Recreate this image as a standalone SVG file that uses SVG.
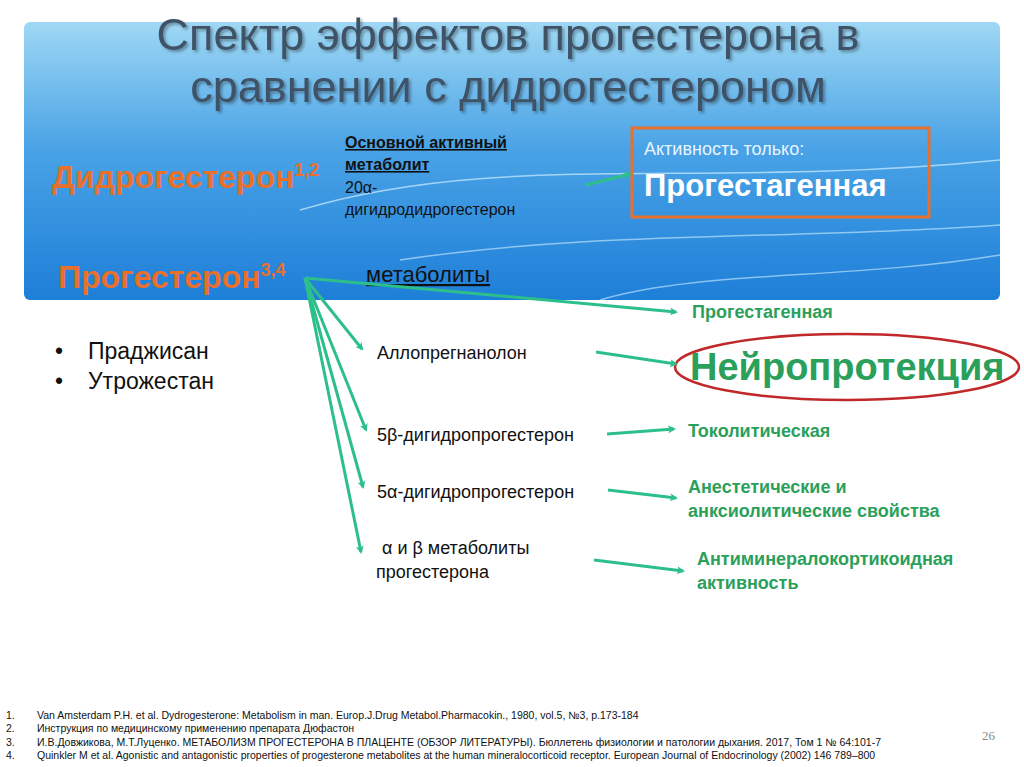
<svg xmlns="http://www.w3.org/2000/svg" width="1024" height="767" viewBox="0 0 1024 767">
<defs>
<linearGradient id="bg" x1="0" y1="0" x2="0" y2="1">
<stop offset="0" stop-color="#9fd8f4"/><stop offset="0.45" stop-color="#4aa3e6"/><stop offset="1" stop-color="#1e7fd8"/>
</linearGradient>
<marker id="ah" markerWidth="8" markerHeight="8" refX="6" refY="4" orient="auto" markerUnits="userSpaceOnUse" viewBox="0 0 8 8">
<path d="M0,0 L8,4 L0,8 L2,4 Z" fill="#2dbf8a"/>
</marker>
<filter id="sh"><feDropShadow dx="2" dy="2" stdDeviation="1.5" flood-color="#000" flood-opacity="0.35"/></filter>
</defs>
<style>
.t{font-family:"Liberation Sans",Arial,sans-serif}
.c{stroke:#2dbf8a;stroke-width:3;fill:none;marker-end:url(#ah)}
.g{fill:#2aa05a;font-weight:bold;font-size:18px}
.k{fill:#111;font-size:18px}
</style>
<rect width="1024" height="767" fill="#fff"/>
<rect x="24" y="22" width="976" height="278" rx="6" fill="url(#bg)"/>
<path d="M300,210 C500,150 700,190 1000,160" stroke="#cfeeff" stroke-width="1.5" fill="none" opacity="0.7"/>
<path d="M400,260 C600,230 800,240 1000,225" stroke="#cfeeff" stroke-width="1.5" fill="none" opacity="0.6"/>
<path d="M600,300 C700,270 850,280 1000,255" stroke="#cfeeff" stroke-width="1.5" fill="none" opacity="0.6"/>
<g id="title" class="t" fill="#3f5266" font-size="45" text-anchor="middle" filter="url(#sh)">
<text x="508" y="50">Спектр эффектов прогестерона в</text>
<text x="508" y="102">сравнении с дидрогестероном</text>
</g>
<g id="dydro" class="t"><text x="52" y="188" fill="#e8702a" font-size="32" font-weight="bold">Дидрогестерон<tspan font-size="18" dy="-12">1,2</tspan></text></g>
<g id="prog" class="t"><text x="58" y="288" fill="#e8702a" font-size="32" font-weight="bold">Прогестерон<tspan font-size="18" dy="-12">3,4</tspan></text></g>
<g id="metab1" class="t" fill="#111" font-size="16">
<text x="345" y="148" font-weight="bold" text-decoration="underline">Основной активный</text>
<text x="345" y="170" font-weight="bold" text-decoration="underline">метаболит</text>
<text x="345" y="193">20α-</text>
<text x="345" y="215">дигидродидрогестерон</text>
</g>
<g id="active" class="t">
<rect x="632" y="128" width="297" height="89" fill="none" stroke="#e8702a" stroke-width="3"/>
<text x="644" y="155" fill="#e8f4ff" font-size="18">Активность только:</text>
<text x="644" y="196" fill="#fff" font-size="31" font-weight="bold">Прогестагенная</text>
</g>
<g id="metab2" class="t"><text x="366" y="282" fill="#111" font-size="22" text-decoration="underline">метаболиты</text></g>
<g id="brands" class="t" fill="#111" font-size="23">
<text x="55" y="359">•</text><text x="88" y="359">Праджисан</text>
<text x="55" y="389">•</text><text x="88" y="389">Утрожестан</text>
</g>
<g id="m1" class="t"><text x="377" y="359" class="k t">Аллопрегнанолон</text></g>
<g id="m2" class="t"><text x="377" y="441" class="k t">5β-дигидропрогестерон</text></g>
<g id="m3" class="t"><text x="377" y="498" class="k t">5α-дигидропрогестерон</text></g>
<g id="m4" class="t"><text x="382" y="554" class="k t">α и β метаболиты</text><text x="376" y="578" class="k t">прогестерона</text></g>
<g id="e1" class="t"><text x="692" y="318" class="g t" font-size="17">Прогестагенная</text></g>
<g id="e2" class="t">
<ellipse cx="847" cy="367" rx="172" ry="33" fill="none" stroke="#c0282a" stroke-width="2.5"/>
<text x="690" y="380" fill="#2aa05a" font-size="38" font-weight="bold">Нейропротекция</text>
</g>
<g id="e3" class="t"><text x="688" y="437" class="g t">Токолитическая</text></g>
<g id="e4" class="t"><text x="688" y="493" class="g t">Анестетические и</text><text x="688" y="517" class="g t">анксиолитические свойства</text></g>
<g id="e5" class="t"><text x="697" y="565" class="g t">Антиминералокортикоидная</text><text x="697" y="589" class="g t">активность</text></g>
<g id="connectors">
<path class="c" d="M586,185 L630,174"/>
<path class="c" d="M305,278 L676,312"/>
<path class="c" d="M305,278 L362,349"/>
<path class="c" d="M305,278 L366,430"/>
<path class="c" d="M305,278 L363,487"/>
<path class="c" d="M305,278 L361,552"/>
<path class="c" d="M596,352 L676,364"/>
<path class="c" d="M607,434 L674,429"/>
<path class="c" d="M608,490 L676,498"/>
<path class="c" d="M594,560 L683,571"/>
</g>
<g id="refs" class="t" fill="#111" font-size="10.5">
<text x="6" y="719">1.</text><text x="37" y="719">Van Amsterdam P.H. et al. Dydrogesterone: Metabolism in man. Europ.J.Drug Metabol.Pharmacokin., 1980, vol.5, №3, p.173-184</text>
<text x="6" y="732">2.</text><text x="37" y="732">Инструкция по медицинскому применению препарата Дюфастон</text>
<text x="6" y="746">3.</text><text x="37" y="746">И.В.Довжикова, М.Т.Луценко. МЕТАБОЛИЗМ ПРОГЕСТЕРОНА В ПЛАЦЕНТЕ (ОБЗОР ЛИТЕРАТУРЫ).  Бюллетень физиологии и патологии дыхания. 2017, Том 1 № 64:101-7</text>
<text x="6" y="759">4.</text><text x="37" y="759">Quinkler M et al. Agonistic and antagonistic properties of progesterone metabolites at the human mineralocorticoid receptor. European Journal of Endocrinology (2002) 146 789–800</text>
<text x="982" y="740" font-family="Liberation Serif,serif" font-size="13" fill="#888">26</text>
</g>
</svg>
